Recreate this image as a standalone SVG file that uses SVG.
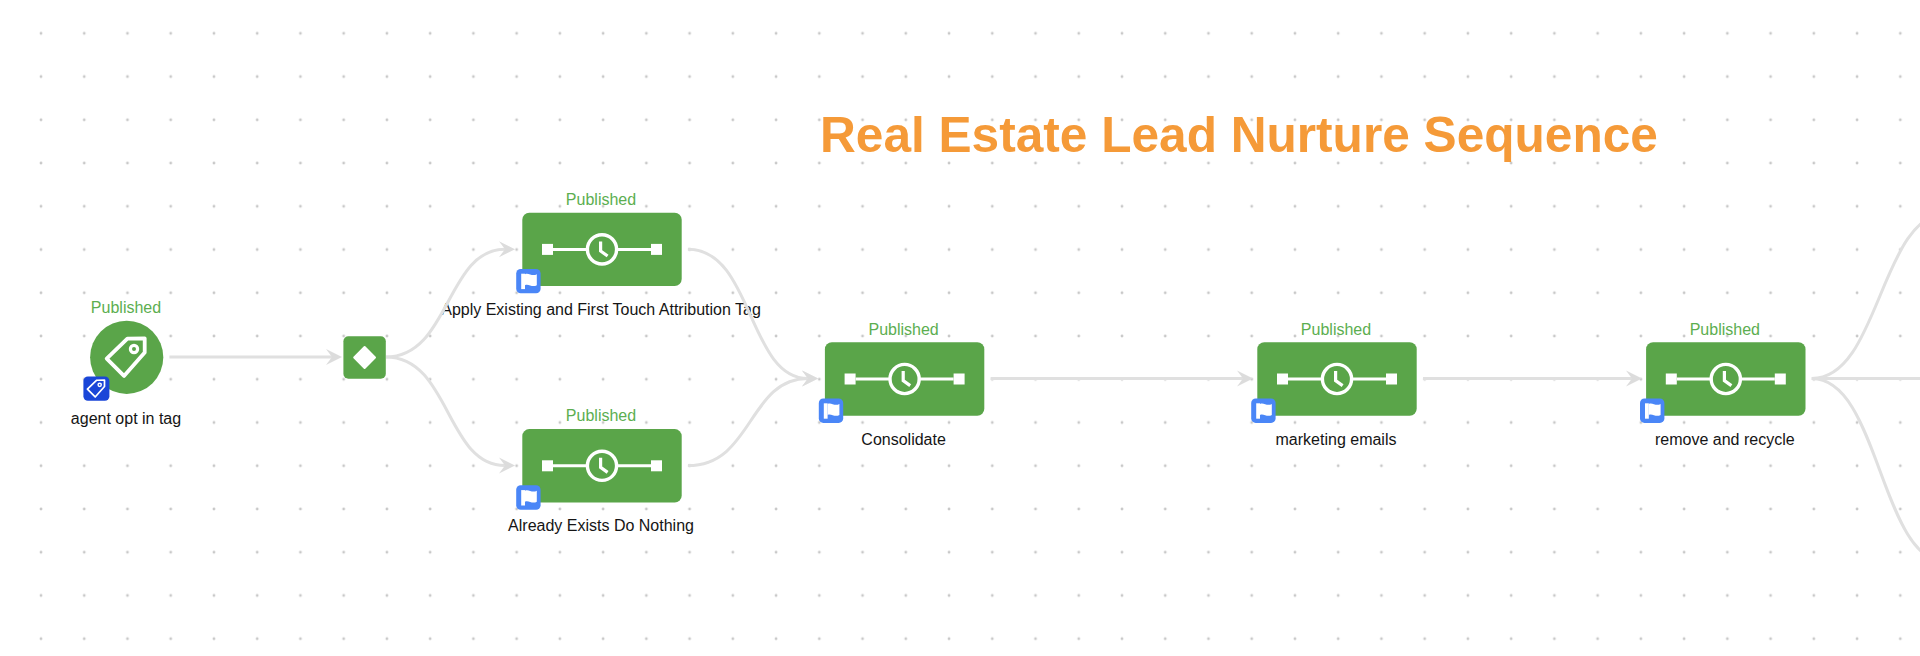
<svg xmlns="http://www.w3.org/2000/svg" width="1920" height="656" viewBox="0 0 1920 656">
<style>
.pub{font:16px "Liberation Sans",Arial,sans-serif;fill:#5cae50;text-anchor:middle}
.lab{font:16px "Liberation Sans",Arial,sans-serif;fill:#151515;text-anchor:middle}
.title{font:bold 49.6px "Liberation Sans",Arial,sans-serif;fill:#f59a38}
.conn{fill:none;stroke:#e0e0e0;stroke-width:3}
.g{fill:#5aa549}
.w{fill:#fff}
.ws{fill:none;stroke:#fff}
</style>
<defs>
<pattern id="dots" x="41" y="33.4" width="43.24" height="43.24" patternUnits="userSpaceOnUse" patternTransform="translate(-2 -2)">
<circle cx="2" cy="2" r="1.4" fill="#c8c8c8"/>
</pattern>
<marker id="arrow" markerUnits="userSpaceOnUse" markerWidth="18" markerHeight="18" viewBox="0 0 18 18" refX="7" refY="9" orient="auto">
<path d="M1 1L17 9L1 17L7 9Z" fill="#dcdcdc"/>
</marker>
<g id="tagIcon">
<path class="ws" stroke-width="3.8" stroke-linejoin="round" d="M0.7 -18.6L18 -19V-4.7L-2.7 18.6L-20 1.3Z"/>
<circle class="ws" cx="7.3" cy="-8.3" r="3.6" stroke-width="3.2"/>
</g>
<g id="flagBadge">
<rect x="-12.2" y="-12.2" width="24.4" height="24.4" rx="4.5" fill="#4a86f7"/>
<path class="w" d="M-7.2 -7.4H-3.4V8H-7.2Z"/>
<path class="w" d="M-3.4 -6.8C0 -8.8 3.6 -4.2 8.4 -6.8V4.2C3.6 6.8 0 2.2 -3.4 4.2Z"/>
</g>
<g id="timer">
<rect class="g" x="-79.7" y="-36.7" width="159.4" height="73.4" rx="7"/>
<rect class="w" x="-60" y="-5.5" width="11" height="11"/>
<rect class="w" x="49" y="-5.5" width="11" height="11"/>
<path class="ws" stroke-width="3" d="M-49 0H-15M15 0H49"/>
<circle class="ws" r="14.6" stroke-width="3.4"/>
<path class="ws" stroke-width="3.2" d="M-1.4 -8V1.6L5.6 6.6"/>
<use href="#flagBadge" x="-73.6" y="31.7"/>
</g>
</defs>
<rect width="1920" height="656" fill="#fff"/>
<rect id="grid" width="1920" height="656" fill="url(#dots)"/>
<text id="title" class="title" x="820" y="151.5">Real Estate Lead Nurture Sequence</text>
<g id="nodes">
<g id="agent-opt-in-tag">
<circle class="g" cx="126.7" cy="357.3" r="36.6"/>
<use href="#tagIcon" x="126.7" y="357.3"/>
<rect x="83.4" y="376.4" width="26" height="24.4" rx="4.5" fill="#1a46d8"/>
<use href="#tagIcon" transform="translate(96.4 388.6) scale(.45)"/>
<text class="pub" x="126" y="312.8">Published</text>
<text class="lab" x="126" y="424">agent opt in tag</text>
</g>
<g id="decision">
<rect class="g" x="343.4" y="336.3" width="42.4" height="42.4" rx="5"/>
<path class="w" stroke="#fff" stroke-width="2" stroke-linejoin="round" d="M364.6 347L375 357.5L364.6 368L354.2 357.5Z"/>
</g>
<g id="apply-existing" transform="translate(602 249.4)">
<use href="#timer"/>
<text class="pub" y="-44.4" x="-1">Published</text>
<text class="lab" y="65.6" x="-1">Apply Existing and First Touch Attribution Tag</text>
</g>
<g id="already-exists" transform="translate(602 465.8)">
<use href="#timer"/>
<text class="pub" y="-44.4" x="-1">Published</text>
<text class="lab" y="65.6" x="-1">Already Exists Do Nothing</text>
</g>
<g id="consolidate" transform="translate(904.6 379)">
<use href="#timer"/>
<text class="pub" y="-44.4" x="-1">Published</text>
<text class="lab" y="65.6" x="-1">Consolidate</text>
</g>
<g id="marketing-emails" transform="translate(1337 379)">
<use href="#timer"/>
<text class="pub" y="-44.4" x="-1">Published</text>
<text class="lab" y="65.6" x="-1">marketing emails</text>
</g>
<g id="remove-and-recycle" transform="translate(1725.8 379)">
<use href="#timer"/>
<text class="pub" y="-44.4" x="-1">Published</text>
<text class="lab" y="65.6" x="-1">remove and recycle</text>
</g>
</g>
<g id="connectors">
<path class="conn" marker-end="url(#arrow)" d="M169.4 357H332"/>
<path class="conn" marker-end="url(#arrow)" d="M386 357C450 357 446 249.2 505 249.2"/>
<path class="conn" marker-end="url(#arrow)" d="M386 357C450 357 446 465.6 505 465.6"/>
<path class="conn" marker-end="url(#arrow)" d="M688 249.2C753 249.2 748 378.6 808 378.6"/>
<path class="conn" marker-end="url(#arrow)" d="M688 465.6C753 465.6 748 378.6 808 378.6"/>
<path class="conn" marker-end="url(#arrow)" d="M990.6 378.6H1243"/>
<path class="conn" marker-end="url(#arrow)" d="M1423 378.6H1632"/>
<path class="conn" d="M1811.8 378.6H1920"/>
<path class="conn" d="M1811.8 378.6C1880 378.6 1880 213 1948 213"/>
<path class="conn" d="M1811.8 378.6C1880 378.6 1880 563 1948 563"/>
</g>
</svg>
